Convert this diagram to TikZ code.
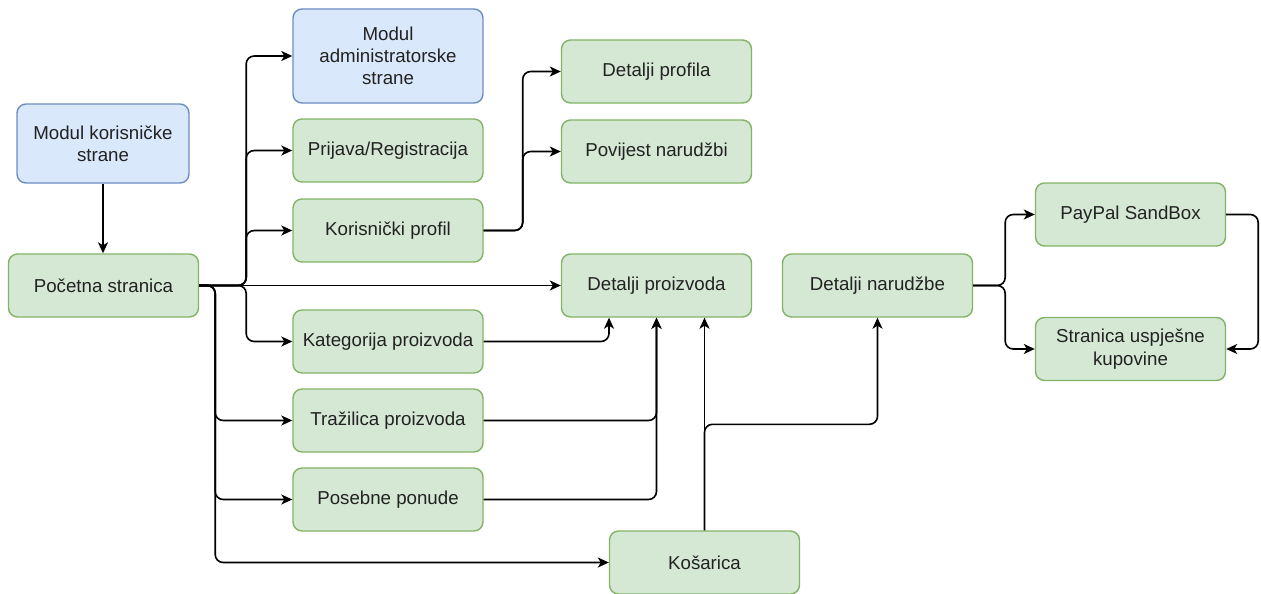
\documentclass[tikz,border=0pt]{standalone}
\usepackage{fontspec}
\setmainfont{Liberation Sans}
\usetikzlibrary{arrows.meta,calc}
\definecolor{gfill}{HTML}{D5E8D4}
\definecolor{gdraw}{HTML}{82B366}
\definecolor{bfill}{HTML}{DAE8FC}
\definecolor{bdraw}{HTML}{6C8EBF}
\definecolor{txt}{HTML}{222222}
\tikzset{
  box/.style={draw=gdraw, fill=gfill, line width=1.4pt, rounded corners=9pt,
    minimum width=190pt, minimum height=63pt, inner sep=0pt, align=center,
    text=txt, font=\fontsize{18.7}{22.3}\selectfont},
  bluebox/.style={box, draw=bdraw, fill=bfill},
  arr/.style={draw=black, line width=1.6pt, rounded corners=8pt,
    -{Stealth[length=11pt,width=10pt,inset=3pt]}},
}
\begin{document}
\begin{tikzpicture}[x=1pt,y=-1pt]
\useasboundingbox (0,0) rectangle (1261,594);
% nodes
\node[bluebox, minimum width=172pt, minimum height=79pt] (korisnicka) at (103,143.5) {Modul korisničke\\strane};
\node[box] (pocetna) at (103.5,285.5) {Početna stranica};
\node[bluebox, minimum height=94pt] (admin) at (388,56) {Modul\\administratorske\\strane};
\node[box] (prijava) at (388,150.5) {Prijava/Registracija};
\node[box] (profil) at (388,230.5) {Korisnički profil};
\node[box] (kategorija) at (388,341.5) {Kategorija proizvoda};
\node[box] (trazilica) at (388,420.5) {Tražilica proizvoda};
\node[box] (ponude) at (388,499.5) {Posebne ponude};
\node[box] (kosarica) at (704.5,562.5) {Košarica};
\node[box] (detprofil) at (656.5,71.5) {Detalji profila};
\node[box] (povijest) at (656.5,151.5) {Povijest narudžbi};
\node[box] (proizvod) at (656.5,285.5) {Detalji proizvoda};
\node[box] (narudzba) at (877.5,285.5) {Detalji narudžbe};
\node[box] (paypal) at (1130.5,214.5) {PayPal SandBox};
\node[box] (uspjeh) at (1130.5,349) {Stranica uspješne\\kupovine};
% connectors
\draw[arr] (korisnicka.south) -- (korisnicka.south |- pocetna.north);
\draw[arr] (pocetna.east) -- ++(47,0) |- (admin.west);
\draw[arr] (pocetna.east) -- ++(47,0) |- (prijava.west);
\draw[arr] (pocetna.east) -- ++(47,0) |- (profil.west);
\draw[arr] (pocetna.east) -- ++(47,0) |- (kategorija.west);
\draw[arr] (pocetna.east) -- (proizvod.west);
\draw[arr] (pocetna.east) -- ++(16,0) |- (trazilica.west);
\draw[arr] (pocetna.east) -- ++(16,0) |- (ponude.west);
\draw[arr] (pocetna.east) -- ++(16,0) |- (kosarica.west);
\draw[arr] (profil.east) -- ++(39,0) |- (detprofil.west);
\draw[arr] (profil.east) -- ++(39,0) |- (povijest.west);
\draw[arr] (kategorija.east) -| ($(proizvod.south)+(-47.5,0)$);
\draw[arr] (trazilica.east) -| (proizvod.south);
\draw[arr] (ponude.east) -| (proizvod.south);
\draw[arr] (kosarica.north) -- (kosarica.north |- proizvod.south);
\draw[arr] (kosarica.north) -- ($(kosarica.north)+(0,-106)$) -| (narudzba.south);
\draw[arr] (narudzba.east) -- ++(32,0) |- (paypal.west);
\draw[arr] (narudzba.east) -- ++(32,0) |- (uspjeh.west);
\draw[arr] (paypal.east) -- ++(32,0) |- (uspjeh.east);
\end{tikzpicture}
\end{document}
